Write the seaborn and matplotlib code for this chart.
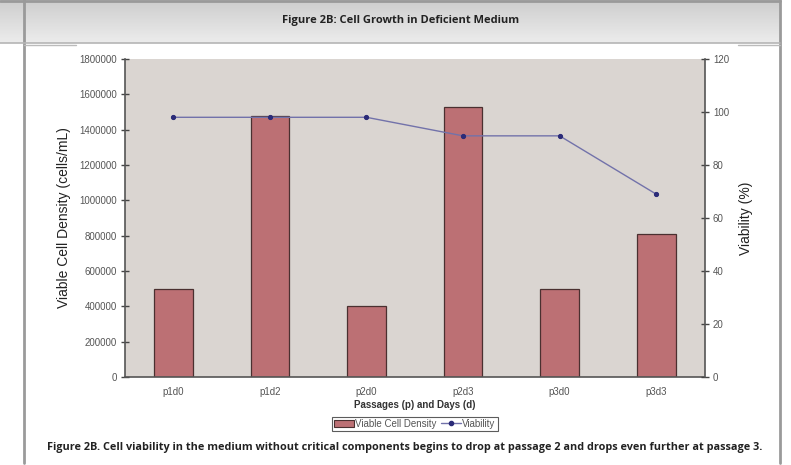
import numpy as np
import pandas as pd
import matplotlib
matplotlib.use("Agg")
import matplotlib.pyplot as plt
import seaborn as sns
from matplotlib.patches import Patch
from matplotlib.lines import Line2D

# ---- data ----
categories = ["p1d0", "p1d2", "p2d0", "p2d3", "p3d0", "p3d3"]
density = [500000, 1475000, 400000, 1530000, 500000, 810000]
viability = [98, 98, 98, 91, 91, 69]
left_ticks = [0, 200000, 400000, 600000, 800000, 1000000, 1200000, 1400000, 1600000, 1800000]
right_ticks = [0, 20, 40, 60, 80, 100, 120]

title = "Figure 2B: Cell Growth in Deficient Medium"
caption = ("Figure 2B. Cell viability in the medium without critical components begins to drop "
           "at passage 2 and drops even further at passage 3.")

df = pd.DataFrame({"cat": categories, "density": density, "viability": viability})

sns.set_theme(style="white")
plt.rcParams["font.family"] = ["Liberation Sans", "DejaVu Sans"]

W, H = 791, 465
fig = plt.figure(figsize=(W / 100, H / 100), dpi=100)
fig.patch.set_facecolor("white")

# ---- header band ----
hdr = fig.add_axes([0, (H - 43) / H, 780 / W, 43 / H])
grad = np.linspace(0, 1, 50).reshape(-1, 1)
hdr.imshow(grad, aspect="auto", cmap=matplotlib.colors.LinearSegmentedColormap.from_list(
    "g", ["#cdcdcd", "#ececec"]), extent=[0, 1, 0, 1], origin="upper")
hdr.set_xlim(0, 1); hdr.set_ylim(0, 1)
hdr.set_axis_off()
fig.text(401 / W, (H - 21) / H, title, ha="center", va="center",
         fontsize=8, fontweight="bold", color="#222222",
         family=["Open Sans", "DejaVu Sans"])

# frame lines (page layout)
frame = fig.add_axes([0, 0, 1, 1], facecolor="none")
frame.set_xlim(0, W); frame.set_ylim(H, 0)
frame.set_axis_off()
frame.plot([24, 24], [0, 463], color="#9a9a9a", lw=2)
frame.plot([780, 780], [0, 463], color="#9a9a9a", lw=2)
frame.plot([0, 780], [1, 1], color="#9a9a9a", lw=2)
frame.plot([0, 780], [43, 43], color="#b5b5b5", lw=1.2)
frame.plot([24, 76], [45, 45], color="#bbbbbb", lw=1)
frame.plot([738, 780], [45, 45], color="#bbbbbb", lw=1)

# ---- main chart ----
ax = fig.add_axes([125 / W, (H - 377) / H, (704.5 - 125) / W, (377 - 59) / H])
ax.set_facecolor("#dad5d1")
sns.barplot(data=df, x="cat", y="density", ax=ax, color="#bc7074", width=0.4,
            edgecolor="#4a3030", linewidth=0.9, saturation=1)
ax.set_xlim(-0.5, len(categories) - 0.5)
ax.set_ylim(0, 1800000)
ax.set_yticks(left_ticks)
ax.set_yticklabels([str(t) for t in left_ticks])
ax.set_xticks(np.arange(len(categories)))
ax.set_xticklabels(categories)
ax.set_xticks(np.arange(len(categories) + 1) - 0.5, minor=True)
ax.tick_params(axis="x", which="major", length=0, labelsize=7, colors="#555555", pad=7)
ax.tick_params(axis="x", which="minor", length=5, direction="inout", color="#444444", width=1)
ax.tick_params(axis="y", length=6, direction="inout", color="#444444", width=1,
               labelsize=7, labelcolor="#555555", pad=3)
ax.spines["top"].set_visible(False)
ax.spines["right"].set_visible(False)
ax.spines["left"].set_color("#555555"); ax.spines["left"].set_linewidth(1.2)
ax.spines["bottom"].set_color("#555555"); ax.spines["bottom"].set_linewidth(1.2)
ax.set_xlabel("Passages (p) and Days (d)", fontsize=7, fontweight="bold", color="#333333", labelpad=2)
ax.set_ylabel("Viable Cell Density (cells/mL)", fontsize=10, color="#222222", labelpad=6)

ax2 = ax.twinx()
sns.pointplot(data=df, x="cat", y="viability", ax=ax2, color="#7272aa", markers="o",
              markersize=3, linewidth=1.0, errorbar=None)
ax2.lines[0].set_markerfacecolor("#2b2b78")
ax2.lines[0].set_markeredgecolor("#2b2b78")
ax2.set_xlim(-0.5, len(categories) - 0.5)
ax2.set_ylim(0, 120)
ax2.set_yticks(right_ticks)
ax2.set_yticklabels([str(t) for t in right_ticks])
ax2.tick_params(axis="y", length=6, direction="inout", color="#444444", width=1,
                labelsize=7, labelcolor="#555555", pad=3)
for s in ["top", "left", "bottom"]:
    ax2.spines[s].set_visible(False)
ax2.spines["right"].set_color("#555555"); ax2.spines["right"].set_linewidth(1.2)
ax2.set_ylabel("Viability (%)", fontsize=10, color="#222222", labelpad=7)
ax2.set_xlabel("")

# legend
handles = [Patch(facecolor="#bc7074", edgecolor="#4a3030", linewidth=0.8),
           Line2D([], [], color="#7272aa", marker="o", markersize=3,
                  markerfacecolor="#2b2b78", markeredgecolor="#2b2b78", lw=1)]
leg = fig.legend(handles, ["Viable Cell Density", "Viability"], ncol=2,
                 loc="center", bbox_to_anchor=(415 / W, (H - 424) / H),
                 fontsize=7, frameon=True, fancybox=False, edgecolor="#333333",
                 handlelength=2.0, handleheight=0.8, columnspacing=0.5, handletextpad=0.15,
                 borderpad=0.2, borderaxespad=0)
for t in leg.get_texts():
    t.set_color("#555555")
leg.get_frame().set_linewidth(0.8)

fig.text(405 / W, (H - 447) / H, caption, ha="center", va="center", fontsize=7.8,
         fontweight="bold", color="#222222", family=["Open Sans", "DejaVu Sans"])

fig.savefig("out.png", dpi=100)
